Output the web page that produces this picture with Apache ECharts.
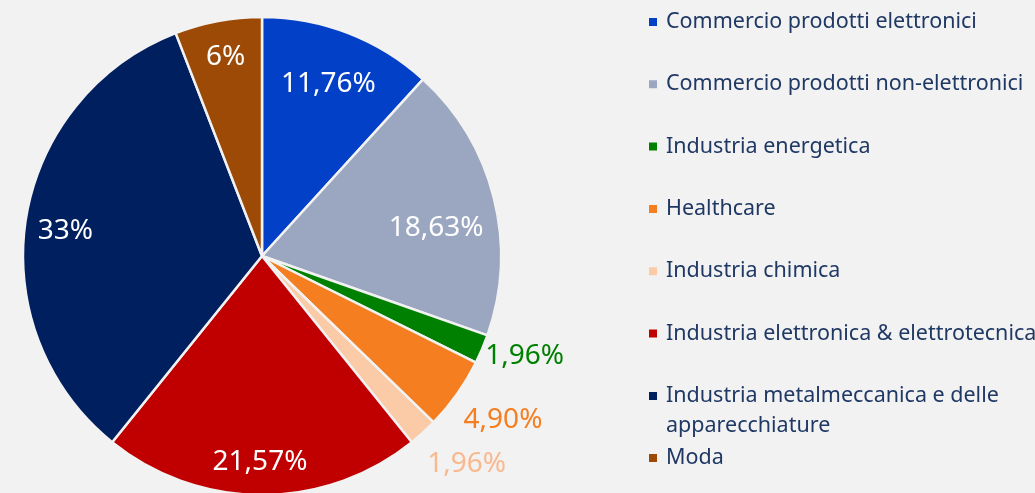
<!DOCTYPE html>
<html>
<head>
<meta charset="utf-8">
<script src="https://cdn.jsdelivr.net/npm/echarts@6/dist/echarts.min.js"></script>
<style>
  html, body { margin: 0; padding: 0; background: #f2f2f2; }
  #chart { width: 1035px; height: 493px; }
</style>
</head>
<body>
<div id="chart"></div>
<script>
// settori
const categories = [
    'Commercio prodotti elettronici',
    'Commercio prodotti non-elettronici',
    'Industria energetica',
    'Healthcare',
    'Industria chimica',
    'Industria elettronica & elettrotecnica',
    'Industria metalmeccanica e delle apparecchiature',
    'Moda'
];
// quote (%)
const shareValues = [11.76, 18.63, 1.96, 4.90, 1.96, 21.57, 33.33, 5.88];
// etichette come scritte nel grafico
const shareLabels = ['11,76%', '18,63%', '1,96%', '4,90%', '1,96%', '21,57%', '33%', '6%'];
const sliceColors = ['#0340c8', '#9ba7c0', '#008000', '#f47e20', '#fbcaa6', '#c00000', '#001f5f', '#9c4a06'];
const outsideLabelColors = { 2: '#008000', 3: '#f47e20', 4: '#f9b98e' };
// piccoli spostamenti delle etichette
const labelNudge = {
    0: [-3, 7], 1: [-12, 19], 2: [2, -10], 3: [10, 1], 4: [14, -1],
    5: [-2, 14], 6: [-7, 5], 7: [-1, -10]
};

const FONT = 'Noto Sans';
const bg = '#f2f2f2';

const chart = echarts.init(document.getElementById('chart'), null, { renderer: 'canvas' });

// serie principale (solo spicchi)
const pieData = categories.map(function (name, i) {
    return { name: name, value: shareValues[i], itemStyle: { color: sliceColors[i] } };
});

// serie trasparente usata solo per posizionare le etichette
const labelData = categories.map(function (name, i) {
    const outside = outsideLabelColors[i] !== undefined;
    return {
        name: name,
        value: shareValues[i],
        label: {
            position: outside ? 'outside' : 'inside',
            color: outside ? outsideLabelColors[i] : '#ffffff'
        }
    };
});

const legendText = {
    color: '#1f3864',
    fontFamily: FONT,
    fontSize: 21.5,
    lineHeight: 30,
    padding: [0, 0, 0, 3]
};

function legendBlock(names, top, extra) {
    return Object.assign({
        orient: 'vertical',
        left: 647,
        top: top,
        padding: 0,
        itemGap: 32.3,
        itemWidth: 10,
        itemHeight: 10,
        icon: 'rect',
        textStyle: legendText,
        data: names
    }, extra || {});
}

const option = {
    backgroundColor: bg,
    animation: false,
    legend: [
        legendBlock(categories.slice(0, 6), 7),
        // riga vuota in testa: il quadratino resta sulla prima riga del testo
        legendBlock(categories.slice(6, 7), 351, {
            formatter: function (name) {
                return '\n' + name.replace(' e delle ', ' e delle\n');
            }
        }),
        legendBlock(categories.slice(7), 443)
    ],
    series: [{
        type: 'pie',
        center: [262, 256],
        radius: [0, 239],
        startAngle: 90,
        clockwise: true,
        silent: true,
        label: { show: false },
        labelLine: { show: false },
        itemStyle: { borderColor: bg, borderWidth: 2.5 },
        data: pieData
    }, {
        type: 'pie',
        center: [262, 256],
        radius: [139, 239],
        startAngle: 90,
        clockwise: true,
        silent: true,
        avoidLabelOverlap: false,
        itemStyle: { color: 'transparent', borderWidth: 0 },
        label: {
            show: true,
            fontFamily: FONT,
            fontSize: 28,
            distanceToLabelLine: 0,
            formatter: function (p) { return shareLabels[p.dataIndex]; }
        },
        labelLine: { show: false, length: 44, length2: 0 },
        labelLayout: function (p) {
            const n = labelNudge[p.dataIndex] || [0, 0];
            return { align: 'center', verticalAlign: 'middle', dx: n[0], dy: n[1] };
        },
        emphasis: { disabled: true },
        data: labelData
    }]
};

chart.setOption(option);
</script>
</body>
</html>
